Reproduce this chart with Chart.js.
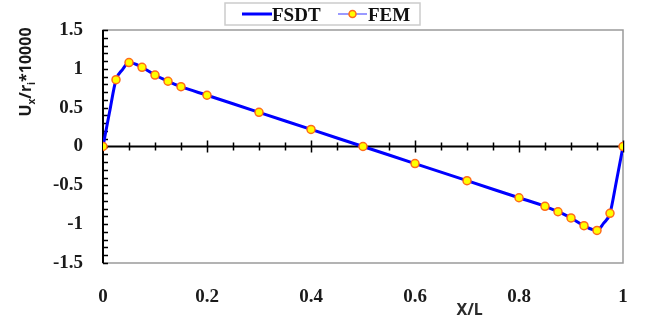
<!DOCTYPE html>
<html>
<head>
<meta charset="utf-8">
<script src="https://cdn.jsdelivr.net/npm/chart.js"></script>
<style>
  html, body { margin: 0; padding: 0; background: #fff; }
  #wrap { width: 646px; height: 322px; }
</style>
</head>
<body>
<div id="wrap"><canvas id="chart" width="646" height="322"></canvas></div>
<script>
// FSDT curve (denser near the ends) and FEM points
const xFsdt = [0, 0.0125, 0.025, 0.0375, 0.05, 0.075, 0.1, 0.125, 0.15, 0.2, 0.3, 0.4, 0.5,
               0.6, 0.7, 0.8, 0.85, 0.875, 0.9, 0.925, 0.95, 0.9625, 0.975, 0.9875, 1];
const yFsdt = [0, 0.44, 0.86, 0.99, 1.08, 1.02, 0.92, 0.84, 0.77, 0.66, 0.44, 0.22, 0,
               -0.22, -0.44, -0.66, -0.77, -0.84, -0.92, -1.02, -1.08, -0.99, -0.86, -0.44, 0];

const xFem = [0, 0.025, 0.05, 0.075, 0.1, 0.125, 0.15, 0.2, 0.3, 0.4, 0.5,
              0.6, 0.7, 0.8, 0.85, 0.875, 0.9, 0.925, 0.95, 0.975, 1];
const yFem = [0, 0.86, 1.08, 1.02, 0.92, 0.84, 0.77, 0.66, 0.44, 0.22, 0,
              -0.22, -0.44, -0.66, -0.77, -0.84, -0.92, -1.02, -1.08, -0.86, 0];

const xTicks = [0, 0.2, 0.4, 0.6, 0.8, 1];
const yTicks = [-1.5, -1, -0.5, 0, 0.5, 1, 1.5];
const seriesNames = ['FSDT', 'FEM'];

const BLUE = '#0000ff';
const FEM_LINE = '#9a9aff';
const MARK_FILL = '#ffff00';
const MARK_EDGE = '#ff6a1a';
const tickFont = { family: 'Liberation Serif', weight: 'bold', size: 19 };

function toPoints(xs, ys) {
    return xs.map((x, i) => ({ x: x, y: ys[i] }));
}

// frame, crossing axes and minor tick marks
const axesPlugin = {
    id: 'axes',
    beforeDatasetsDraw(chart) {
        const { ctx, chartArea: a, scales: { x, y } } = chart;
        ctx.save();
        ctx.strokeStyle = '#9a9a9a';
        ctx.lineWidth = 1.5;
        ctx.strokeRect(a.left, a.top, a.right - a.left, a.bottom - a.top);

        ctx.strokeStyle = '#000';
        ctx.lineWidth = 2;
        const x0 = x.getPixelForValue(0);
        const y0 = y.getPixelForValue(0);
        ctx.beginPath();
        ctx.moveTo(x0, a.top);
        ctx.lineTo(x0, a.bottom);
        ctx.moveTo(a.left, y0);
        ctx.lineTo(a.right, y0);
        ctx.stroke();

        // y minor ticks every 0.1, pointing inwards
        ctx.lineWidth = 1.5;
        ctx.beginPath();
        for (let i = -15; i <= 15; i++) {
            const py = Math.round(y.getPixelForValue(i / 10)) + 0.5;
            ctx.moveTo(x0, py);
            ctx.lineTo(x0 + 5, py);
        }
        // x ticks every 0.05 across the zero line, longer at labels
        for (let i = 1; i <= 20; i++) {
            const px = Math.round(x.getPixelForValue(i / 20)) + 0.5;
            const len = (i % 4 === 0) ? 6 : 4;
            ctx.moveTo(px, y0 - len);
            ctx.lineTo(px, y0 + len);
        }
        ctx.stroke();
        ctx.restore();
    },
    afterDraw(chart) {
        const { ctx, scales: { x } } = chart;
        ctx.save();

        // x axis title
        ctx.fillStyle = '#2b2b2b';
        ctx.font = 'bold 16px "Noto Sans"';
        ctx.textAlign = 'center';
        ctx.textBaseline = 'alphabetic';
        ctx.fillText('X/L', x.getPixelForValue(0.705), 315);

        // y axis title with subscripts, rotated
        const parts = [
            { t: 'U', size: 16, dy: 0 },
            { t: 'x', size: 10, dy: 4 },
            { t: '/r', size: 16, dy: 0 },
            { t: 'i', size: 10, dy: 4 },
            { t: '*10000', size: 16, dy: 0 }
        ];
        let total = 0;
        parts.forEach(p => {
            ctx.font = 'bold ' + p.size + 'px "Noto Sans"';
            p.w = ctx.measureText(p.t).width;
            total += p.w;
        });
        ctx.translate(31, 72 + total / 2);
        ctx.rotate(-Math.PI / 2);
        ctx.textAlign = 'left';
        ctx.fillStyle = '#1a1a1a';
        let cx = 0;
        parts.forEach(p => {
            ctx.font = 'bold ' + p.size + 'px "Noto Sans"';
            ctx.fillText(p.t, cx, p.dy);
            cx += p.w;
        });
        ctx.restore();

        // legend box
        ctx.save();
        ctx.fillStyle = '#fff';
        ctx.fillRect(225, 3, 195, 22);
        ctx.strokeStyle = '#cccccc';
        ctx.lineWidth = 1.5;
        ctx.strokeRect(225, 3, 195, 22);

        ctx.strokeStyle = BLUE;
        ctx.lineWidth = 3;
        ctx.beginPath();
        ctx.moveTo(242, 14);
        ctx.lineTo(272, 14);
        ctx.stroke();

        ctx.strokeStyle = FEM_LINE;
        ctx.lineWidth = 2;
        ctx.beginPath();
        ctx.moveTo(338, 14);
        ctx.lineTo(367, 14);
        ctx.stroke();
        ctx.fillStyle = MARK_FILL;
        ctx.strokeStyle = MARK_EDGE;
        ctx.lineWidth = 1.5;
        ctx.beginPath();
        ctx.arc(352.5, 14, 3.5, 0, Math.PI * 2);
        ctx.fill();
        ctx.stroke();

        ctx.fillStyle = '#111';
        ctx.font = 'bold 19px "Liberation Serif"';
        ctx.textBaseline = 'alphabetic';
        ctx.fillText(seriesNames[0], 272, 21);
        ctx.fillText(seriesNames[1], 368, 21);
        ctx.restore();
    }
};

new Chart(document.getElementById('chart'), {
    type: 'line',
    data: {
        datasets: [{
            label: seriesNames[0],
            data: toPoints(xFsdt, yFsdt),
            borderColor: BLUE,
            borderWidth: 3,
            pointRadius: 0,
            cubicInterpolationMode: 'monotone',
            order: 2
        }, {
            label: seriesNames[1],
            data: toPoints(xFem, yFem),
            showLine: false,
            pointRadius: 4,
            pointBackgroundColor: MARK_FILL,
            pointBorderColor: MARK_EDGE,
            pointBorderWidth: 1.5,
            order: 1
        }]
    },
    options: {
        responsive: false,
        animation: false,
        events: [],
        layout: { padding: { top: 30, right: 23, left: 0, bottom: 0 } },
        plugins: {
            legend: { display: false },
            tooltip: { enabled: false }
        },
        scales: {
            x: {
                type: 'linear',
                min: 0,
                max: 1,
                afterBuildTicks: (scale) => { scale.ticks = xTicks.map(v => ({ value: v })); },
                afterFit: (scale) => {
                    scale.height = 59;
                    scale.paddingLeft = 0;
                    scale.paddingRight = 0;
                },
                ticks: { font: tickFont, color: '#1a1a1a', padding: 23, maxRotation: 0,
                         callback: (v) => String(v) },
                grid: { display: false, drawTicks: false },
                border: { display: false }
            },
            y: {
                min: -1.5,
                max: 1.5,
                afterBuildTicks: (scale) => { scale.ticks = yTicks.map(v => ({ value: v })); },
                afterFit: (scale) => {
                    scale.width = 103;
                    scale.paddingTop = 0;
                    scale.paddingBottom = 0;
                },
                ticks: { font: tickFont, color: '#1a1a1a', padding: 20,
                         callback: (v) => String(v) },
                grid: { display: false, drawTicks: false },
                border: { display: false }
            }
        }
    },
    plugins: [axesPlugin]
});
</script>
</body>
</html>
